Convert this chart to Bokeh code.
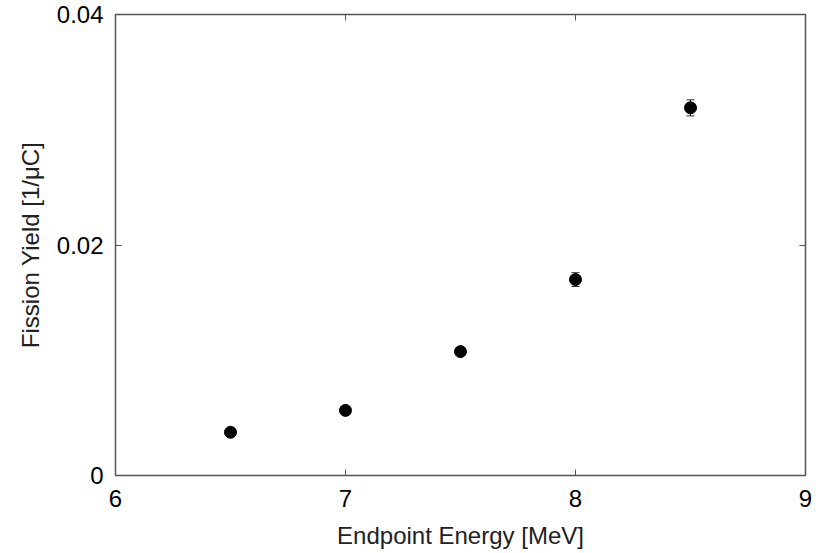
from bokeh.plotting import figure
from bokeh.models import LinearAxis, Range1d, FixedTicker, Whisker, ColumnDataSource
from bokeh.embed import file_html
from bokeh.resources import INLINE

energy = [6.5, 7.0, 7.5, 8.0, 8.5]
yield_vals = [0.00375, 0.00565, 0.01075, 0.0170, 0.0319]
yield_err = [0.0002, 0.0002, 0.0002, 0.0006, 0.0007]
x_ticks = [6, 7, 8, 9]
y_ticks = [0, 0.02, 0.04]
y_tick_labels = {0: "0", 0.02: "0.02", 0.04: "0.04"}

src = ColumnDataSource(dict(
    x=energy, y=yield_vals,
    lo=[v - e for v, e in zip(yield_vals, yield_err)],
    hi=[v + e for v, e in zip(yield_vals, yield_err)],
))

FONT = "Liberation Sans"
GRAY = "#555555"

p = figure(width=830, height=553, output_backend="svg", toolbar_location=None,
           x_range=Range1d(6, 9), y_range=Range1d(0, 0.04),
           min_border_left=115, min_border_right=25, min_border_top=14, min_border_bottom=78)
p.grid.visible = False
p.outline_line_color = GRAY
p.outline_line_width = 1.5
p.background_fill_color = "white"
p.border_fill_color = "white"

for ax in (p.xaxis[0], p.yaxis[0]):
    ax.major_tick_in = 6
    ax.major_tick_out = 0
    ax.minor_tick_in = 0
    ax.minor_tick_out = 0
    ax.axis_line_color = GRAY
    ax.major_tick_line_color = GRAY
    ax.major_label_text_font = FONT
    ax.major_label_text_font_size = "24px"
    ax.major_label_text_color = "black"
    ax.axis_label_text_font = FONT
    ax.axis_label_text_font_size = "24px"
    ax.axis_label_text_font_style = "normal"
    ax.axis_label_text_color = "#222222"

p.xaxis[0].ticker = FixedTicker(ticks=x_ticks)
p.yaxis[0].ticker = FixedTicker(ticks=y_ticks)
p.yaxis[0].major_label_overrides = y_tick_labels
p.xaxis[0].axis_label = "Endpoint Energy [MeV]"
p.yaxis[0].axis_label = "Fission Yield [1/μC]"
p.xaxis[0].major_label_standoff = 14
p.yaxis[0].major_label_standoff = 12
p.xaxis[0].axis_label_standoff = 12
p.yaxis[0].axis_label_standoff = 10

# box ticks on the top and right
ra = LinearAxis(ticker=FixedTicker(ticks=y_ticks), major_tick_in=6, major_tick_out=0,
                minor_tick_in=0, minor_tick_out=0, major_label_text_font_size="0px",
                major_label_standoff=0, axis_line_color=GRAY, major_tick_line_color=GRAY)
ta = LinearAxis(ticker=FixedTicker(ticks=x_ticks), major_tick_in=6, major_tick_out=0,
                minor_tick_in=0, minor_tick_out=0, major_label_text_font_size="0px",
                major_label_standoff=0, axis_line_color=GRAY, major_tick_line_color=GRAY)
p.add_layout(ra, "right")
p.add_layout(ta, "above")

w = Whisker(source=src, base="x", lower="lo", upper="hi", dimension="height",
            line_color="#333333", line_width=1.2)
w.upper_head.size = 8
w.lower_head.size = 8
w.upper_head.line_color = "#333333"
w.lower_head.line_color = "#333333"
p.add_layout(w)

p.scatter("x", "y", source=src, size=12, color="black")

open("out.html", "w").write(file_html(p, INLINE))
